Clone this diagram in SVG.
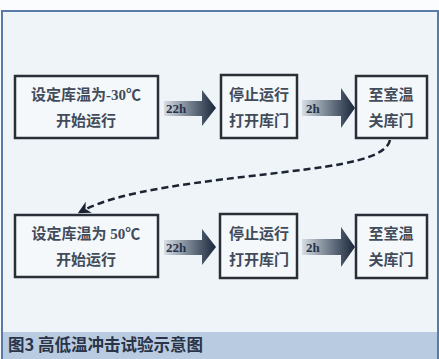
<svg xmlns="http://www.w3.org/2000/svg" width="439" height="359" viewBox="0 0 439 359">
<defs>
<style>
.box{fill:#f5f8fa;stroke:#2a2e36;stroke-width:2.5}
.t{font-family:"Liberation Serif","Noto Sans CJK SC",serif;font-weight:bold;font-size:15px;fill:#414b5a;text-anchor:middle}
.lbl{font-family:"Liberation Serif",serif;font-weight:bold;font-size:13px;fill:#27324a}
.arr{fill:url(#g)}
</style>
<linearGradient id="g" x1="0" y1="0" x2="1" y2="0">
<stop offset="0" stop-color="#d6dde4"/>
<stop offset="0.45" stop-color="#7d8896"/>
<stop offset="1" stop-color="#18263a"/>
</linearGradient>
<marker id="ah" viewBox="0 0 10 10" refX="8" refY="5" markerWidth="5" markerHeight="5" orient="auto">
<path d="M0 0 L10 5 L0 10 L3 5 Z" fill="#1c2433"/>
</marker>
</defs>
<rect x="0" y="0" width="439" height="359" fill="#fbfcfd"/>
<rect x="2" y="11" width="436" height="350" fill="#eef4f8" stroke="#5a7ba6" stroke-width="2"/>
<rect x="3" y="332" width="434" height="27" fill="#b9cbe0"/>
<text x="8" y="351" style="font-family:'Noto Sans CJK SC',sans-serif;font-weight:bold;font-size:16.5px;fill:#2a3448">图3 高低温冲击试验示意图</text>

<g id="connectors">
<g id="a1"><polygon class="arr" points="164,101 202,101 202,90 216,108 202,126 202,116 164,116"/><text class="lbl" x="166" y="113">22h</text></g>
<g id="a2"><polygon class="arr" points="302,100 341,100 341,88 355,108 341,128 341,116 302,116"/><text class="lbl" x="306" y="113">2h</text></g>
<g id="a3"><polygon class="arr" points="164,240 202,240 202,229 216,247 202,265 202,255 164,255"/><text class="lbl" x="166" y="252">22h</text></g>
<g id="a4"><polygon class="arr" points="302,239 341,239 341,227 355,247 341,267 341,255 302,255"/><text class="lbl" x="306" y="252">2h</text></g>
<path d="M390 140 C386 158,345 165,285 172 C200 182,120 190,80 212" fill="none" stroke="#1c2433" stroke-width="2.5" stroke-dasharray="7 4" marker-end="url(#ah)"/>
</g>

<g id="n1"><rect class="box" x="15" y="76" width="143" height="62"/><text class="t" x="86" y="100">设定库温为-30℃</text><text class="t" x="86" y="126">开始运行</text></g>
<g id="n2"><rect class="box" x="221" y="75" width="76" height="63"/><text class="t" x="259" y="100">停止运行</text><text class="t" x="259" y="126">打开库门</text></g>
<g id="n3"><rect class="box" x="356" y="76" width="71" height="62"/><text class="t" x="391" y="100">至室温</text><text class="t" x="391" y="126">关库门</text></g>
<g id="n4"><rect class="box" x="15" y="215" width="143" height="62"/><text class="t" x="86" y="239">设定库温为 50℃</text><text class="t" x="86" y="265">开始运行</text></g>
<g id="n5"><rect class="box" x="220" y="214" width="77" height="64"/><text class="t" x="259" y="239">停止运行</text><text class="t" x="259" y="265">打开库门</text></g>
<g id="n6"><rect class="box" x="356" y="215" width="71" height="63"/><text class="t" x="391" y="239">至室温</text><text class="t" x="391" y="265">关库门</text></g>
</svg>
